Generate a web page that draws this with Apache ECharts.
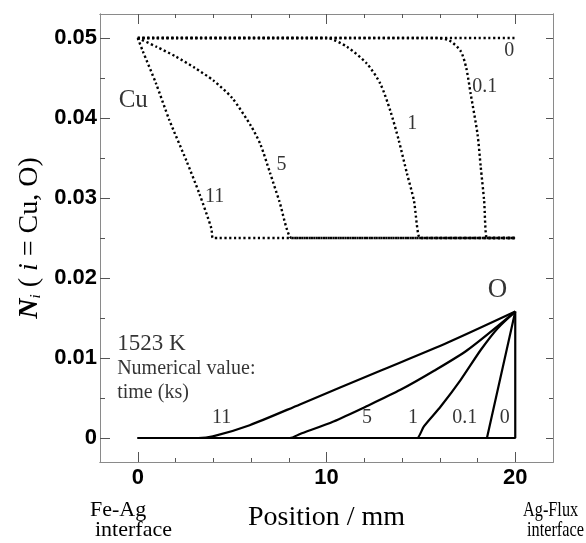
<!DOCTYPE html>
<html>
<head>
<meta charset="utf-8">
<script src="https://cdn.jsdelivr.net/npm/echarts@6/dist/echarts.min.js"></script>
<style>
  html, body { margin: 0; padding: 0; background: #fff; }
  #main { width: 586px; height: 543px; }
</style>
</head>
<body>
<div id="main"></div>
<script>
// Cu profiles (dotted), time in ks
var cu0 = [[0, 0.05], [20, 0.05]];
var cu01 = [[0, 0.05], [15.8, 0.05], [16.5, 0.0497], [17.1, 0.0484], [17.4, 0.0463], [17.64, 0.043], [18.0, 0.038], [18.17, 0.0339], [18.35, 0.0297], [18.5, 0.025], [18.8, 0.025], [20, 0.025]];
var cu1 = [[0, 0.05], [10.0, 0.05], [11.08, 0.0489], [12.14, 0.0468], [12.85, 0.0443], [13.38, 0.0409], [13.83, 0.0372], [14.27, 0.033], [14.63, 0.0297], [14.95, 0.025], [15.3, 0.025], [20, 0.025]];
var cu5 = [[0, 0.05], [1, 0.0489], [2, 0.0477], [3, 0.0463], [4, 0.0447], [5, 0.0425], [6, 0.039], [6.5, 0.0367], [7, 0.0332], [7.5, 0.0296], [8.15, 0.025], [8.5, 0.025], [20, 0.025]];
var cu11 = [[0, 0.05], [0.26, 0.0484], [0.97, 0.0443], [1.68, 0.0397], [2.57, 0.0347], [3.27, 0.0305], [3.9, 0.0262], [3.98, 0.025], [4.3, 0.025], [20, 0.025]];

// O profiles (solid)
var o0 = [[0, 0], [20, 0], [20, 0.0158]];
var o01 = [[0, 0], [18.5, 0], [20, 0.0158]];
var o1 = [[0, 0], [14.5, 0], [14.8, 0], [15.16, 0.00145], [16.05, 0.00394], [17.11, 0.00727], [18.17, 0.011], [19.06, 0.0137], [20, 0.0158]];
var o5 = [[0, 0], [7.7, 0], [8.06, 0], [8.6, 0.0005], [10.37, 0.00207], [12.15, 0.004], [13.92, 0.00602], [15.7, 0.0084], [17.47, 0.011], [20, 0.0158]];
var o11 = [[0, 0], [3.2, 0], [3.98, 0.0002], [5.93, 0.0016], [8.59, 0.0042], [12.85, 0.0084], [16.4, 0.0119], [20, 0.0158]];

var xMajor = [0, 10, 20];
var xMinor = [2, 4, 6, 8, 12, 14, 16, 18];
var yMajor = [0, 0.01, 0.02, 0.03, 0.04, 0.05];
var yMinor = [0.005, 0.015, 0.025, 0.035, 0.045];

// text notes: x, y, text, style
var notes = [
  [-0.24, 0.0422, 'Cu', 'big'],
  [19.68, 0.0484, '0', 'num'],
  [18.39, 0.0439, '0.1', 'num'],
  [14.54, 0.0393, '1', 'num'],
  [7.62, 0.0341, '5', 'num'],
  [4.07, 0.0301, '11', 'num'],
  [19.06, 0.0185, 'O', 'bigO'],
  [4.44, 0.0025, '11', 'num'],
  [12.15, 0.0025, '5', 'num'],
  [14.58, 0.0025, '1', 'num'],
  [17.33, 0.0025, '0.1', 'num'],
  [19.45, 0.0025, '0', 'num'],
  [-1.09, 0.0118, '1523 K', 'temp'],
  [-1.09, 0.00864, 'Numerical value:', 'left'],
  [-1.09, 0.00565, 'time (ks)', 'left']
];

var serif = 'Liberation Serif';
var sans = 'Liberation Sans';
var axisGrey = '#8a8a8a';

var noteStyles = {
  num: { fontSize: 20, position: 'inside' },
  big: { fontSize: 25, position: 'inside' },
  bigO: { fontSize: 27, position: 'inside' },
  temp: { fontSize: 23, position: 'right', distance: 0 },
  left: { fontSize: 20, position: 'right', distance: 0 }
};

function xAxisOf(pos, ticks, len, withLabels) {
  var ax = {
    type: 'value', min: -2, max: 22, position: pos, gridIndex: 0,
    axisLine: { show: true, onZero: false, lineStyle: { color: axisGrey, width: 1 } },
    axisTick: { show: true, inside: true, length: len, customValues: ticks, lineStyle: { color: '#555', width: 1 } },
    axisLabel: { show: false },
    splitLine: { show: false }
  };
  if (withLabels) {
    ax.axisLabel = {
      show: true, customValues: xMajor, margin: 5,
      fontFamily: sans, fontWeight: 'bold', fontSize: 22, color: '#000'
    };
    ax.name = 'Position / mm';
    ax.nameLocation = 'middle';
    ax.nameGap = 42;
    ax.nameTextStyle = { fontFamily: serif, fontSize: 28, color: '#000' };
  }
  return ax;
}

function yAxisOf(pos, ticks, len, withLabels) {
  var ax = {
    type: 'value', min: -0.003, max: 0.053, position: pos, gridIndex: 0,
    axisLine: { show: true, onZero: false, lineStyle: { color: axisGrey, width: 1 } },
    axisTick: { show: true, inside: true, length: len, customValues: ticks, lineStyle: { color: '#555', width: 1 } },
    axisLabel: { show: false },
    splitLine: { show: false }
  };
  if (withLabels) {
    ax.axisLabel = {
      show: true, customValues: yMajor, margin: 3,
      fontFamily: sans, fontWeight: 'bold', fontSize: 22, color: '#000',
      formatter: function (v) { return v === 0 ? '0' : v.toFixed(2); }
    };
    ax.name = '{n|N}{s|i}{p| ( }{i|i}{p| = Cu, O)}';
    ax.nameLocation = 'middle';
    ax.nameRotate = 90;
    ax.nameGap = 56;
    ax.nameTextStyle = {
      fontFamily: serif, fontSize: 28, color: '#000',
      rich: {
        n: { fontFamily: serif, fontSize: 28, fontWeight: 'bold', fontStyle: 'italic', lineHeight: 34, verticalAlign: 'bottom' },
        s: { fontFamily: serif, fontSize: 15, fontStyle: 'italic', lineHeight: 34, verticalAlign: 'bottom' },
        p: { fontFamily: serif, fontSize: 28, lineHeight: 34, verticalAlign: 'bottom' },
        i: { fontFamily: serif, fontSize: 28, fontStyle: 'italic', lineHeight: 34, verticalAlign: 'bottom' }
      }
    };
  }
  return ax;
}

function cuLine(data) {
  return {
    type: 'line', data: data, xAxisIndex: 0, yAxisIndex: 0,
    showSymbol: false, symbol: 'none', silent: true,
    smooth: 0.25,
    lineStyle: { color: '#000', width: 2.4, type: [2.2, 2.6] }
  };
}

function oLine(data, smooth) {
  return {
    type: 'line', data: data, xAxisIndex: 0, yAxisIndex: 0,
    showSymbol: false, symbol: 'none', silent: true,
    smooth: smooth ? 0.25 : false,
    lineStyle: { color: '#000', width: 2.2 }
  };
}

var chart = echarts.init(document.getElementById('main'), null, { renderer: 'canvas' });

var series = [
  cuLine(cu0), cuLine(cu01), cuLine(cu1), cuLine(cu5), cuLine(cu11),
  oLine(o0, false), oLine(o01, false), oLine(o1, true), oLine(o5, true), oLine(o11, true),
  {
    type: 'scatter', xAxisIndex: 0, yAxisIndex: 0, symbolSize: 0, silent: true,
    data: notes.map(function (n) {
      var st = noteStyles[n[3]];
      return {
        value: [n[0], n[1]],
        label: {
          show: true, formatter: n[2], position: st.position, distance: st.distance || 0,
          fontFamily: serif, fontSize: st.fontSize, color: '#000'
        }
      };
    })
  }
];

var tagFont = '22px "Liberation Serif"';

chart.setOption({
  animation: false,
  backgroundColor: '#fff',
  grid: { left: 100, right: 33, top: 14, bottom: 81 },
  xAxis: [
    xAxisOf('bottom', xMinor, 4, true),
    xAxisOf('top', xMinor, 4, false),
    xAxisOf('bottom', xMajor, 10, false),
    xAxisOf('top', xMajor, 10, false)
  ],
  yAxis: [
    yAxisOf('left', yMinor, 5, true),
    yAxisOf('right', yMinor, 4, false),
    yAxisOf('left', yMajor, 10, false),
    yAxisOf('right', yMajor, 7, false)
  ],
  graphic: [
    { type: 'text', x: 90, y: 510, style: { text: 'Fe-Ag', font: tagFont, fill: '#000', verticalAlign: 'middle' } },
    { type: 'text', x: 95, y: 530, style: { text: 'interface', font: tagFont, fill: '#000', verticalAlign: 'middle' } },
    { type: 'text', x: 523, y: 510, scaleX: 0.74, style: { text: 'Ag-Flux', font: tagFont, fill: '#000', verticalAlign: 'middle' } },
    { type: 'text', x: 527, y: 530, scaleX: 0.74, style: { text: 'interface', font: tagFont, fill: '#000', verticalAlign: 'middle' } }
  ],
  series: series
});
</script>
</body>
</html>
